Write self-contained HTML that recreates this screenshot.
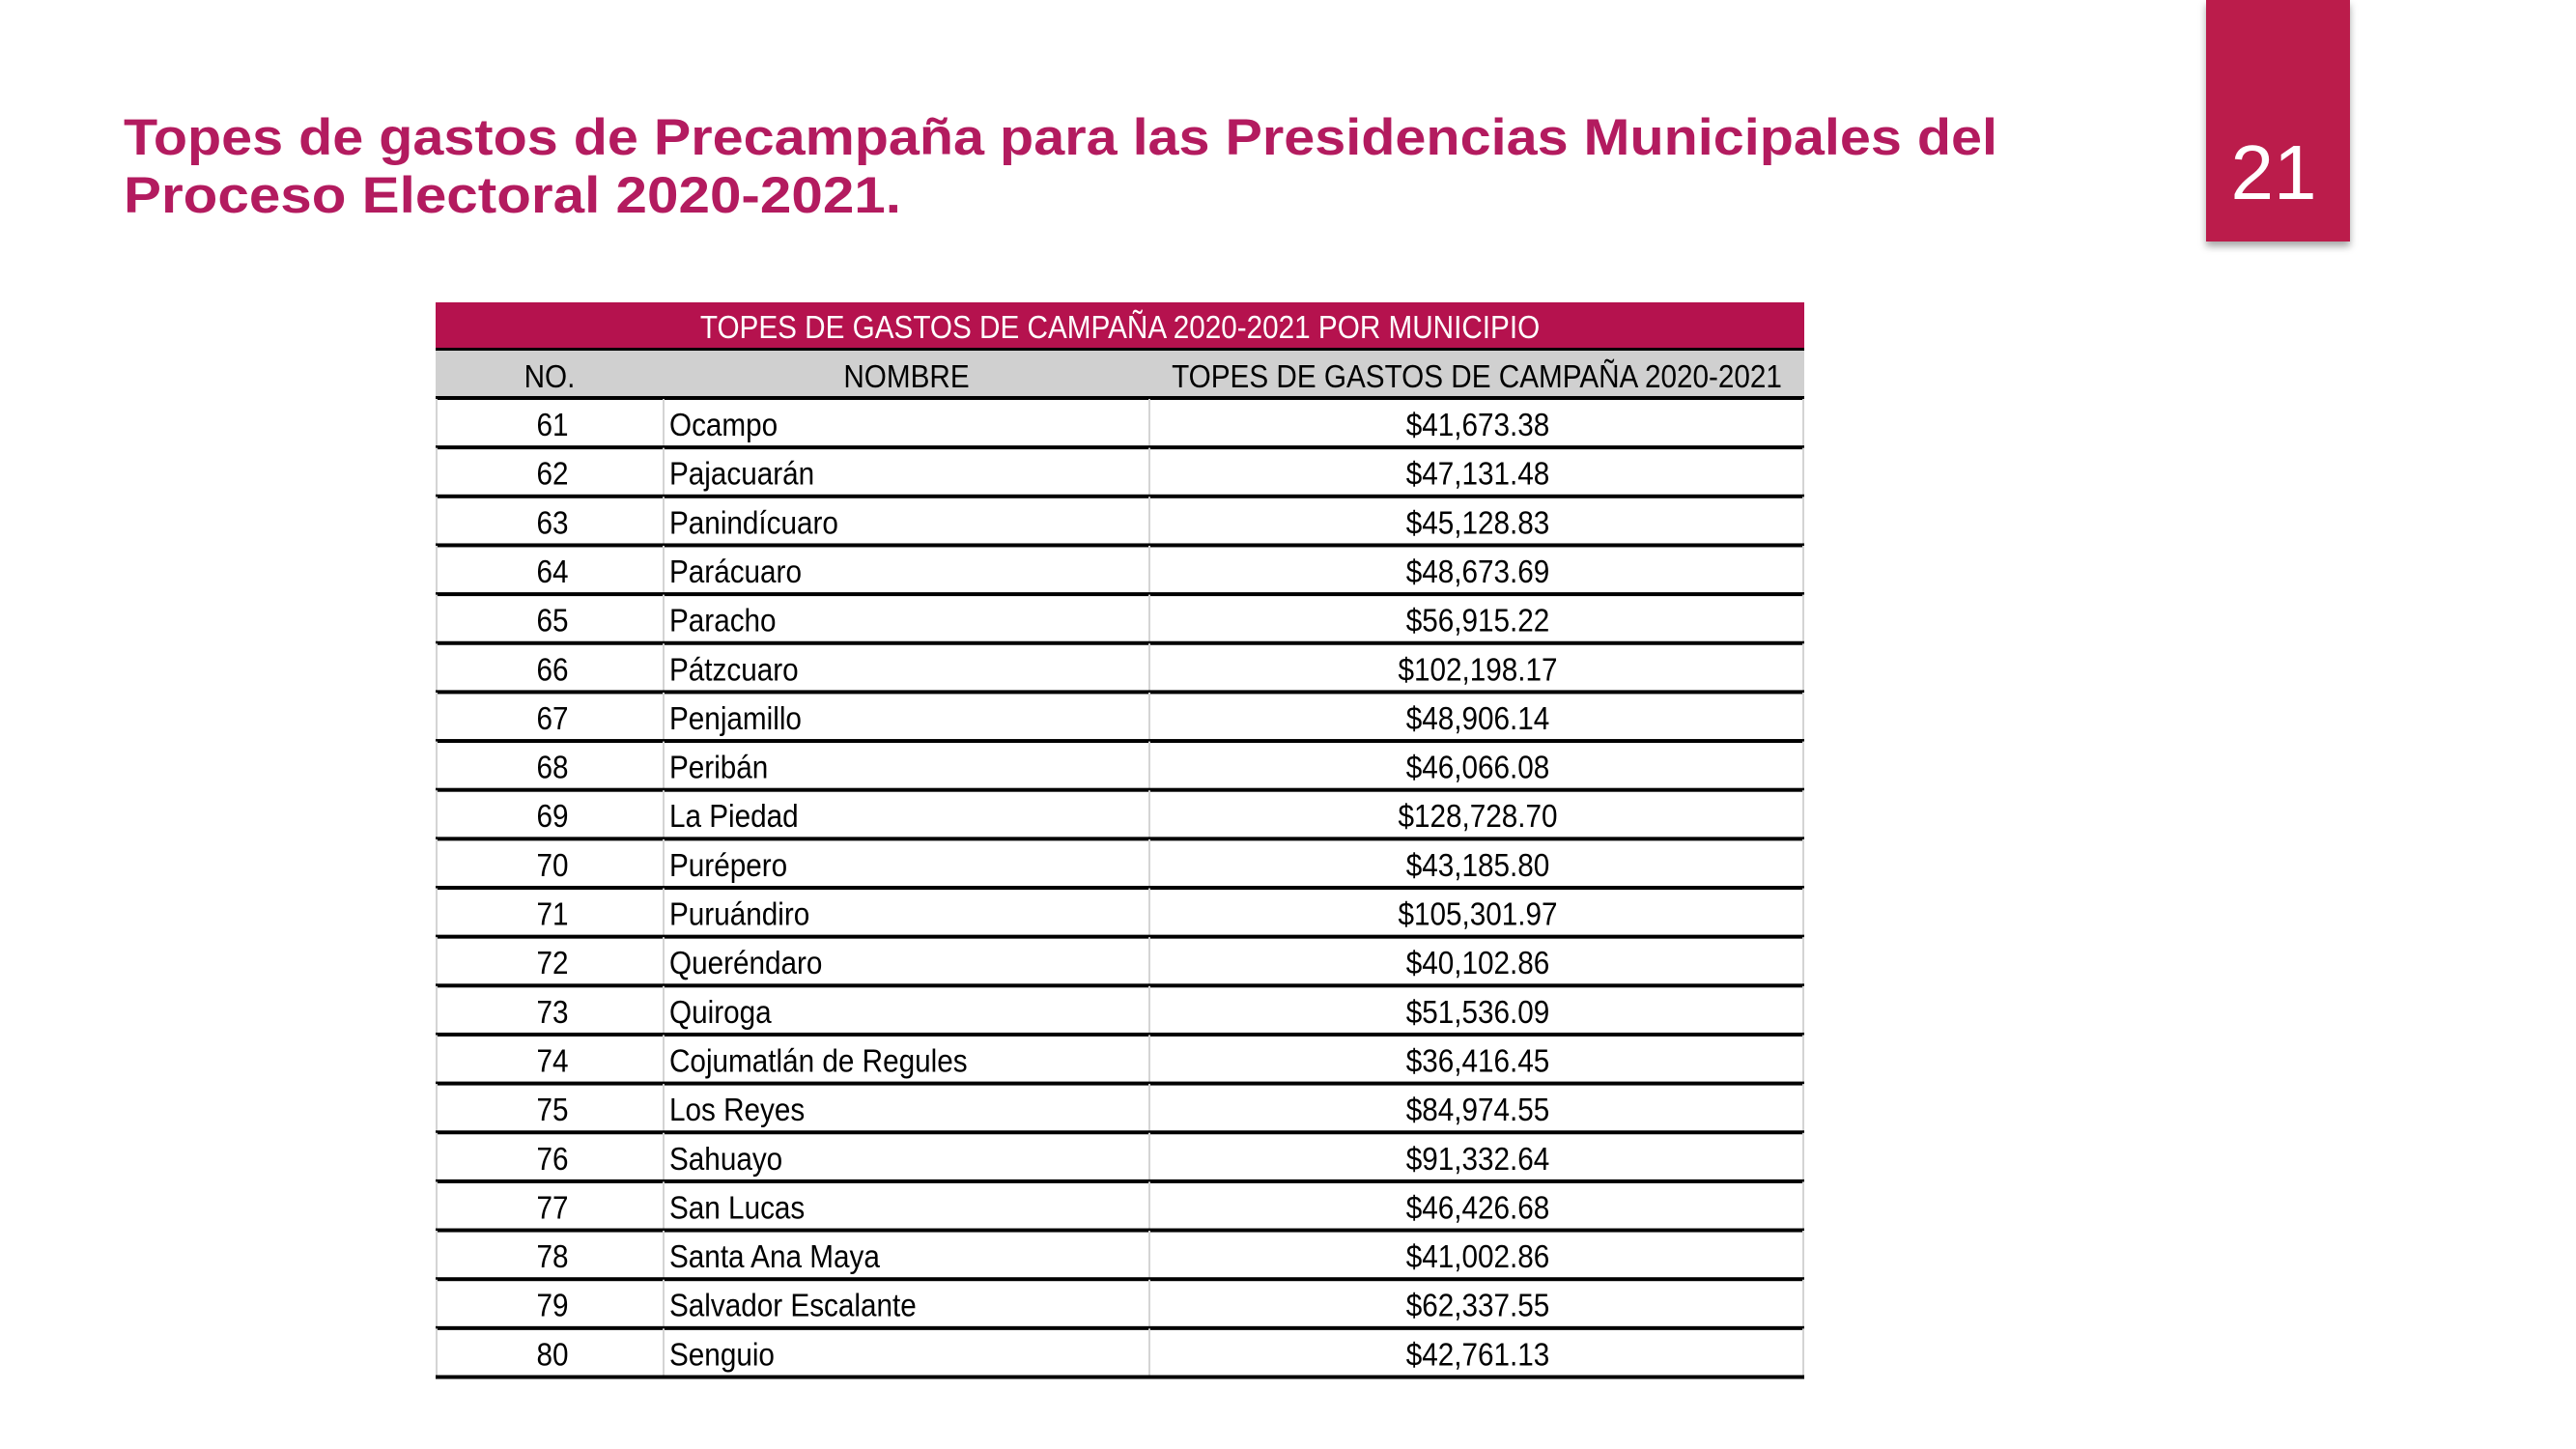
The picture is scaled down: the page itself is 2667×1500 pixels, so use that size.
<!DOCTYPE html>
<html><head><meta charset="utf-8"><style>
html,body{margin:0;padding:0;background:#fff;}
svg{display:block;}
text{font-family:"Liberation Sans",sans-serif;}
</style></head><body>
<svg id="s" width="2667" height="1500" viewBox="0 0 2667 1500" xmlns="http://www.w3.org/2000/svg">
<defs><filter id="sh" x="-20%" y="-20%" width="140%" height="140%"><feDropShadow dx="0" dy="5" stdDeviation="4" flood-color="#000" flood-opacity="0.35"/></filter></defs>
<rect x="2284" y="0" width="149" height="250" fill="#bb1a4c" filter="url(#sh)"/>
<text x="2354" y="206" font-size="80" fill="#fff" text-anchor="middle">21</text>
<text x="128" y="160" font-size="53" font-weight="bold" fill="#b31b5f" textLength="1940" lengthAdjust="spacingAndGlyphs">Topes de gastos de Precampaña para las Presidencias Municipales del</text>
<text x="128" y="220" font-size="53" font-weight="bold" fill="#b31b5f" textLength="805" lengthAdjust="spacingAndGlyphs">Proceso Electoral 2020-2021.</text>
<g id="tbl"></g>
</svg>
<script>
const nums=[61,62,63,64,65,66,67,68,69,70,71,72,73,74,75,76,77,78,79,80];
const names=["Ocampo","Pajacuarán","Panindícuaro","Parácuaro","Paracho","Pátzcuaro","Penjamillo","Peribán","La Piedad","Purépero","Puruándiro","Queréndaro","Quiroga","Cojumatlán de Regules","Los Reyes","Sahuayo","San Lucas","Santa Ana Maya","Salvador Escalante","Senguio"];
const values=["$41,673.38","$47,131.48","$45,128.83","$48,673.69","$56,915.22","$102,198.17","$48,906.14","$46,066.08","$128,728.70","$43,185.80","$105,301.97","$40,102.86","$51,536.09","$36,416.45","$84,974.55","$91,332.64","$46,426.68","$41,002.86","$62,337.55","$42,761.13"];
const NS="http://www.w3.org/2000/svg";
const g=document.getElementById('tbl');
const X0=451,X1=687,X2=1190,X3=1868,RH=50.65,Y0=413;
function el(t,a,txt){const e=document.createElementNS(NS,t);for(const k in a)e.setAttribute(k,a[k]);if(txt!==undefined)e.textContent=txt;g.appendChild(e);return e;}
function tx(x,y,s,anchor,fill){return el('text',{x:0,y:0,transform:'translate('+x+','+y+') scale(0.9,1)','font-size':33,fill:fill||'#000','text-anchor':anchor},s);}
let e;
e=el('rect',{x:X0,y:313,width:X3-X0,height:49,fill:'#b5124e'});


e=tx((X0+X3)/2,350,'TOPES DE GASTOS DE CAMPAÑA 2020-2021 POR MUNICIPIO','middle','#fff');


e=el('rect',{x:X0,y:362,width:X3-X0,height:51,fill:'#d0d0d0'});


el('rect',{x:X0,y:360,width:X3-X0,height:3,fill:'#000'});
e=tx((X0+X1)/2,401,'NO.','middle');


e=tx((X1+X2)/2,401,'NOMBRE','middle');


e=tx((X2+X3)/2,401,'TOPES DE GASTOS DE CAMPAÑA 2020-2021','middle');


el('rect',{x:X0,y:Y0-3,width:X3-X0,height:4,fill:'#000'});
nums.forEach((n,i)=>{
  const y=Y0+i*RH;
  el('line',{x1:X1,y1:y,x2:X1,y2:y+RH,stroke:'#d4d4d4','stroke-width':2});
  el('line',{x1:X2,y1:y,x2:X2,y2:y+RH,stroke:'#d4d4d4','stroke-width':2});
  el('line',{x1:X0+1,y1:y,x2:X0+1,y2:y+RH,stroke:'#d4d4d4','stroke-width':2});
  el('line',{x1:X3-1,y1:y,x2:X3-1,y2:y+RH,stroke:'#d4d4d4','stroke-width':2});
  e=tx((X0+X1)/2+3,y+38,String(n),'middle');
  
  
  e=tx(X1+6,y+38,names[i],'start');
  
  
  e=tx(1530,y+38,values[i],'middle');
  
  
  e=el('rect',{x:X0,y:y+RH-2.5,width:X3-X0,height:4,fill:'#000'});
  
  
});
</script>
</body></html>
